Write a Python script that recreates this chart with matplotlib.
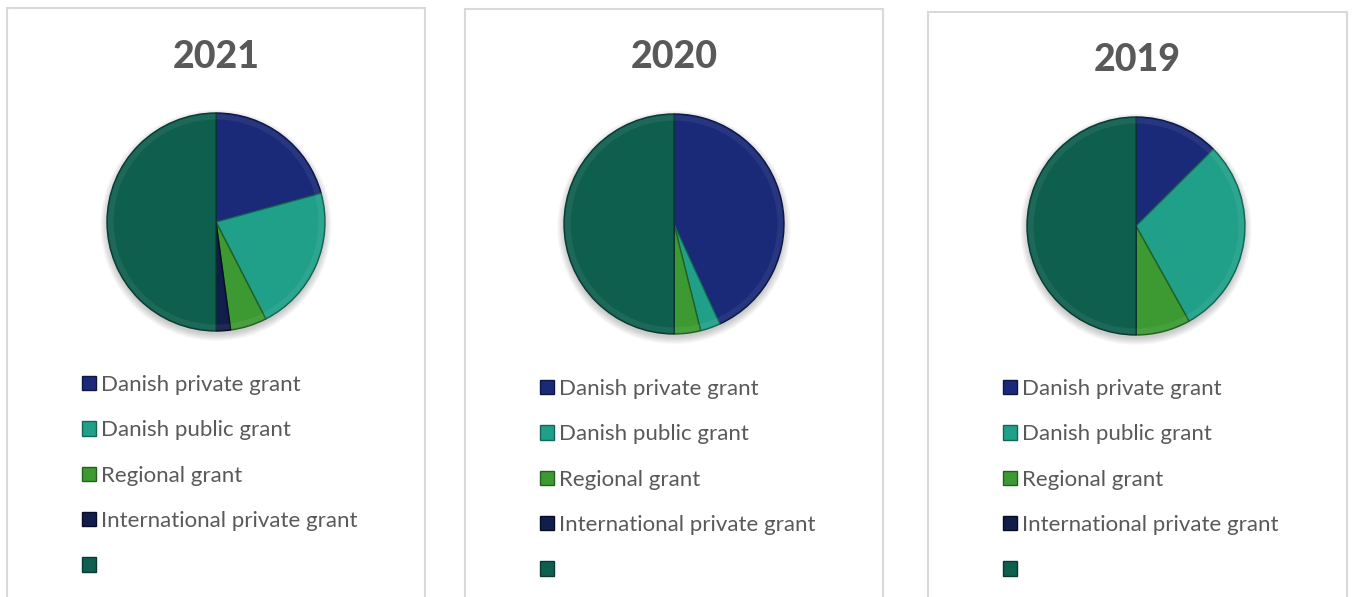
import matplotlib.pyplot as plt
from matplotlib.patches import Rectangle, Circle, Wedge

# 数据：每年各类资助所占份额（最后一个空白类别为总计）
years = ["2021", "2020", "2019"]
categories = ["Danish private grant", "Danish public grant", "Regional grant",
              "International private grant", ""]
share_2021 = [41.5, 43.4, 10.8, 4.3, 100.0]
share_2020 = [86.3, 5.9, 7.8, 0.0, 100.0]
share_2019 = [25.1, 58.7, 16.2, 0.0, 100.0]

colors = ["#1a2a78", "#21a089", "#3d9a33", "#111d4a", "#0f5f4f"]
edge_colors = ["#0e1744", "#136555", "#22601c", "#070d24", "#083a30"]

W, H = 1353, 597
fig = plt.figure(figsize=(W / 100, H / 100), dpi=100)
fig.patch.set_facecolor("white")

# 每个面板的像素布局: 框, 标题中心, 饼图中心/半径, 图例左上角
panels = [
    dict(box=(7, 8, 425), title=(216, 57), pie=(216, 222, 109), leg=(82, 375)),
    dict(box=(465, 9, 883), title=(674, 57), pie=(674, 224, 110), leg=(540, 379)),
    dict(box=(928, 12, 1347), title=(1137, 60), pie=(1136, 226, 109), leg=(1003, 379)),
]
shares = [share_2021, share_2020, share_2019]

for year, vals, p in zip(years, shares, panels):
    x0, y0, x1 = p["box"]
    fig.add_artist(Rectangle((x0 / W, -0.05), (x1 - x0) / W, 1.05 - y0 / H,
                             transform=fig.transFigure, facecolor="none",
                             edgecolor="#d9d9d9", linewidth=1.5))
    tx, ty = p["title"]
    fig.text(tx / W, 1 - ty / H, year, ha="center", va="center",
             fontsize=27, fontweight="black", color="#595959", family="Lato")

    cx, cy, r = p["pie"]
    m = 1.12
    ax = fig.add_axes([(cx - r * m) / W, 1 - (cy + r * m) / H,
                       2 * r * m / W, 2 * r * m / H])
    # 柔和阴影
    for k in range(6):
        ax.add_patch(Circle((0.0, -0.03), 1.0 + 0.012 * k, facecolor="black",
                            alpha=0.035, linewidth=0, zorder=0))
    wedges, _ = ax.pie(vals, colors=colors, startangle=90, counterclock=False,
                       wedgeprops=dict(linewidth=1.0))
    for w, ec in zip(wedges, edge_colors):
        w.set_edgecolor(ec)
        w.set_zorder(2)
    # 边缘斜面高光
    ax.add_patch(Wedge((0, 0), 0.99, 0, 360, width=0.05, facecolor="white",
                       alpha=0.06, linewidth=0, zorder=3))
    ax.set_xlim(-m, m)
    ax.set_ylim(-m, m)
    ax.set_aspect("equal")
    ax.axis("off")

    lx, ly = p["leg"]
    leg = fig.legend(wedges, [c if c else " " for c in categories],
                     loc="upper left", bbox_to_anchor=(lx / W, 1 - ly / H),
                     frameon=False, borderpad=0, borderaxespad=0,
                     handlelength=0.63, handleheight=0.63, handletextpad=0.22,
                     labelspacing=1.14, prop=dict(family="Lato", size=16))
    for t in leg.get_texts():
        t.set_color("#595959")

fig.savefig("out.png", dpi=100)
